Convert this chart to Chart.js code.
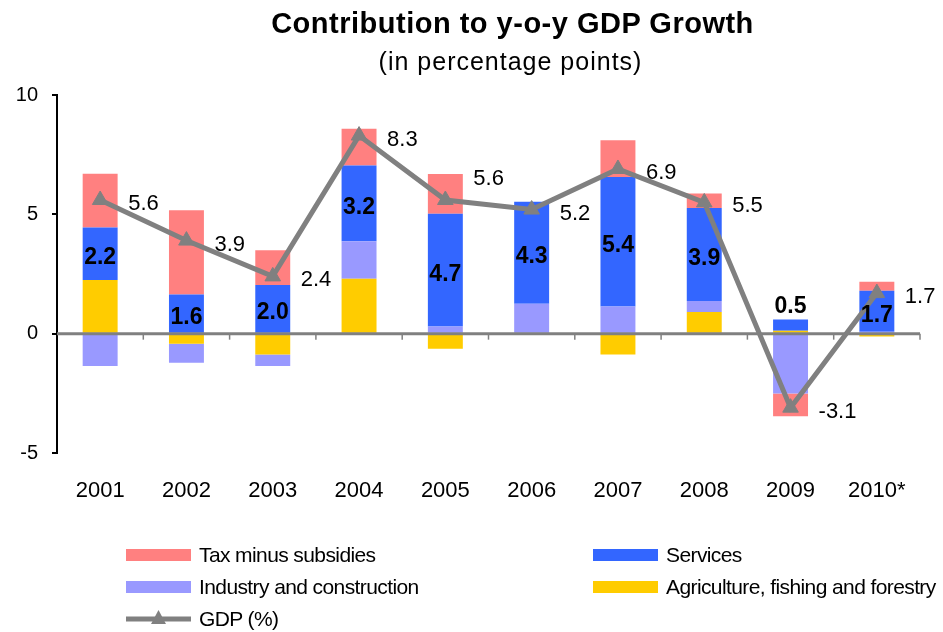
<!DOCTYPE html>
<html>
<head>
<meta charset="utf-8">
<script src="https://cdn.jsdelivr.net/npm/chart.js@4.4.1/dist/chart.umd.min.js"></script>
<style>
  html, body { margin:0; padding:0; background:#fff; }
  #wrap { position:relative; width:943px; height:632px; font-family:"Liberation Sans", Arial, sans-serif; }
  #c { position:absolute; left:0; top:0; }
  .t1 { position:absolute; left:41px; width:943px; top:7px; text-align:center; font-weight:bold; font-size:29px; color:#000; letter-spacing:0.5px; }
  .t2 { position:absolute; left:39px; width:943px; top:47px; text-align:center; font-size:25px; color:#000; letter-spacing:1px; }
  .lg { position:absolute; font-size:21px; color:#000; letter-spacing:-0.6px; display:flex; align-items:center; white-space:nowrap; }
  .lg .sw { width:65px; height:12px; margin-right:8px; }
  .lg svg { margin-right:8px; }
</style>
</head>
<body>
<div id="wrap">
  <canvas id="c" width="943" height="632"></canvas>
  <div class="t1">Contribution to y-o-y GDP Growth</div>
  <div class="t2">(in percentage points)</div>
  <div id="legend"></div>
</div>
<script>
const years = ['2001','2002','2003','2004','2005','2006','2007','2008','2009','2010*'];
const agriculture = [2.25, -0.42, -0.87, 2.30, -0.63, 0.00, -0.87, 0.91, 0.12, -0.12];
const industry    = [-1.35, -0.80, -0.48, 1.57, 0.30, 1.25, 1.14, 0.46, -2.51, 0.08];
const services    = [2.20, 1.64, 2.04, 3.18, 4.72, 4.28, 5.42, 3.90, 0.47, 1.72];
const tax         = [2.25, 3.53, 1.45, 1.54, 1.67, 0.00, 1.54, 0.60, -0.95, 0.38];
const gdp         = [5.6, 3.9, 2.4, 8.3, 5.6, 5.2, 6.9, 5.5, -3.1, 1.7];
const yTicks      = [-5, 0, 5, 10];

const FONT = '"Liberation Sans", Arial, sans-serif';
const C_AGR = '#FFCC00', C_IND = '#9999FF', C_SRV = '#3366FF', C_TAX = '#FF8080', C_GDP = '#808080';

const zeroLine = {
  id: 'zeroLine',
  beforeDatasetDraw(chart, args) {
    if (args.meta.type !== 'line') return;
    const {ctx, chartArea, scales} = chart;
    const y0 = scales.y.getPixelForValue(0);
    ctx.save();
    ctx.strokeStyle = C_GDP;
    ctx.lineWidth = 3;
    ctx.beginPath();
    ctx.moveTo(chartArea.left, y0);
    ctx.lineTo(chartArea.right, y0);
    ctx.stroke();
    ctx.lineWidth = 1.5;
    const n = years.length;
    for (let i = 1; i <= n; i++) {
      const x = scales.x.getPixelForValue(i - 0.5);
      ctx.beginPath();
      ctx.moveTo(x, y0);
      ctx.lineTo(x, y0 + 6);
      ctx.stroke();
    }
    ctx.restore();
  }
};

const valueLabels = {
  id: 'valueLabels',
  afterDatasetsDraw(chart) {
    const {ctx} = chart;
    ctx.save();
    // services labels
    const sMeta = chart.getDatasetMeta(2);
    ctx.font = 'bold 23px ' + FONT;
    ctx.fillStyle = '#000';
    ctx.textAlign = 'center';
    ctx.textBaseline = 'middle';
    sMeta.data.forEach((bar, i) => {
      const top = Math.min(bar.y, bar.base), bot = Math.max(bar.y, bar.base);
      const txt = services[i].toFixed(1);
      let y = (top + bot) / 2 + 4;
      const posTop = chart.getDatasetMeta(3).data[i];
      if (bot - top < 24) y = Math.min(top, posTop.y) - 13;
      ctx.fillText(txt, bar.x, y);
    });
    // GDP labels (moved up when the next segment runs nearly flat through the label)
    const gMeta = chart.getDatasetMeta(4);
    ctx.font = '22px ' + FONT;
    ctx.textAlign = 'left';
    gMeta.data.forEach((pt, i) => {
      const nxt = gMeta.data[i + 1];
      const flat = nxt && Math.abs(nxt.y - pt.y) < 20;
      ctx.fillText(gdp[i].toFixed(1), pt.x + 28, pt.y + (flat ? -21 : 4));
    });
    ctx.restore();
  }
};

const chart = new Chart(document.getElementById('c'), {
  data: {
    labels: years,
    datasets: [
      { type:'bar', label:'Agriculture, fishing and forestry', data:agriculture, backgroundColor:C_AGR, order:1 },
      { type:'bar', label:'Industry and construction', data:industry, backgroundColor:C_IND, order:1 },
      { type:'bar', label:'Services', data:services, backgroundColor:C_SRV, order:1 },
      { type:'bar', label:'Tax minus subsidies', data:tax, backgroundColor:C_TAX, order:1 },
      { type:'line', label:'GDP (%)', data:gdp, stack:'gdp', borderColor:C_GDP, backgroundColor:C_GDP,
        borderWidth:5, pointStyle:'triangle', pointRadius:9, pointBackgroundColor:C_GDP, pointBorderColor:C_GDP,
        pointBorderWidth:1, tension:0, order:0 }
    ]
  },
  options: {
    responsive:false,
    animation:false,
    devicePixelRatio:1,
    layout: { padding: { top:95, right:23, bottom:119, left:0 } },
    datasets: { bar: { categoryPercentage:1.0, barPercentage:0.405, borderWidth:0 } },
    plugins: { legend:{ display:false }, tooltip:{ enabled:false }, title:{ display:false } },
    scales: {
      x: {
        stacked:true,
        grid:{ display:false, drawTicks:false },
        border:{ display:false },
        ticks:{ color:'#000', font:{ family:FONT, size:22 }, padding:25, maxRotation:0 },
        afterFit(s) { s.height = 60; }
      },
      y: {
        stacked:true,
        min:-5, max:10,
        afterBuildTicks(s) { s.ticks = yTicks.map(v => ({ value:v })); },
        grid:{ display:true, drawOnChartArea:false, drawTicks:true, tickLength:5, color:'#000', lineWidth:2 },
        border:{ display:true, color:'#000', width:2 },
        ticks:{ color:'#000', font:{ family:FONT, size:20 }, padding:14 },
        afterFit(s) { s.width = 57; }
      }
    }
  },
  plugins: [zeroLine, valueLabels]
});

// HTML legend built from the chart's datasets
const legendEl = document.getElementById('legend');
const ds = chart.data.datasets;
const layout = [
  { idx:3, x:126, y:555 }, { idx:2, x:593, y:555 },
  { idx:1, x:126, y:587 }, { idx:0, x:593, y:587 },
  { idx:4, x:126, y:619 }
];
layout.forEach(item => {
  const d = ds[item.idx];
  const el = document.createElement('div');
  el.className = 'lg';
  el.style.left = item.x + 'px';
  el.style.top = (item.y - 12) + 'px';
  el.style.height = '24px';
  if (d.type === 'line') {
    el.innerHTML = '<svg width="65" height="20"><line x1="0" y1="10" x2="65" y2="10" stroke="' + d.borderColor +
      '" stroke-width="5"/><polygon points="32.5,1 40,15 25,15" fill="' + d.borderColor + '"/></svg>';
  } else {
    el.innerHTML = '<div class="sw" style="background:' + d.backgroundColor + '"></div>';
  }
  const span = document.createElement('span');
  span.textContent = d.label;
  el.appendChild(span);
  legendEl.appendChild(el);
});
</script>
</body>
</html>
